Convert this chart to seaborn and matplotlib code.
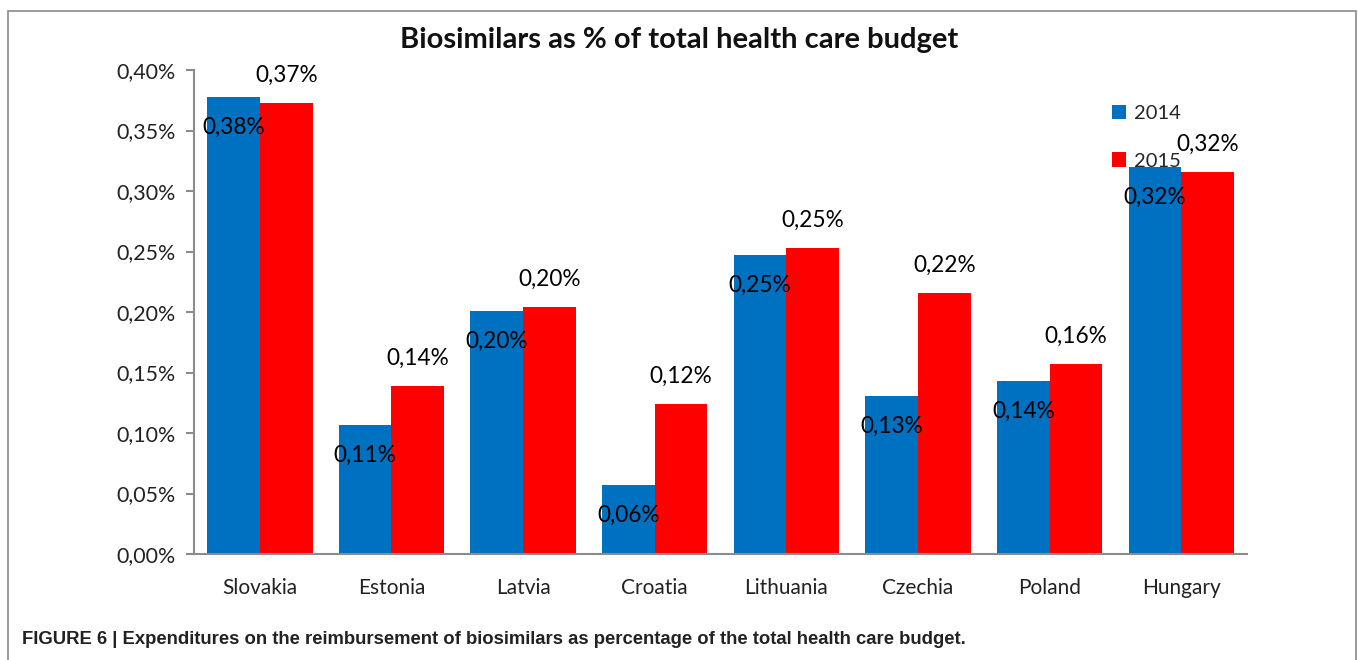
import matplotlib.pyplot as plt
import seaborn as sns
import pandas as pd
from matplotlib.patches import Rectangle
from matplotlib.ticker import FuncFormatter, FixedLocator

countries = ['Slovakia', 'Estonia', 'Latvia', 'Croatia', 'Lithuania', 'Czechia', 'Poland', 'Hungary']
share_2014 = [0.378, 0.107, 0.201, 0.057, 0.247, 0.131, 0.143, 0.320]
share_2015 = [0.373, 0.139, 0.204, 0.124, 0.253, 0.216, 0.157, 0.316]
years = ['2014', '2015']

BLUE = '#0070C0'
RED = '#FF0000'
AXIS_GREY = '#8c8c8c'

sns.set_style("white")
plt.rcParams['font.family'] = ['Lato', 'DejaVu Sans']

df = pd.DataFrame({
    'country': countries * 2,
    'share': share_2014 + share_2015,
    'year': [years[0]] * len(countries) + [years[1]] * len(countries),
})


def pct_comma(x, pos=None):
    return f'{x:.2f}%'.replace('.', ',')


fig = plt.figure(figsize=(13.58, 6.60), dpi=100)
ax = fig.add_axes([0.1429, 0.1606, 0.9183 - 0.1429, 0.8939 - 0.1606])

sns.barplot(data=df, x='country', y='share', hue='year', palette=[BLUE, RED],
            width=0.8, saturation=1, ax=ax, linewidth=0)

# value labels: 2014 inside the bar, 2015 above it
for container, yr in zip(ax.containers, years):
    for bar in container:
        h = bar.get_height()
        cx = bar.get_x() + bar.get_width() / 2
        off = -22 if yr == '2014' else 20
        ax.annotate(pct_comma(h), (cx, h), xytext=(0, off), textcoords='offset points',
                    ha='center', va='center', fontsize=16.3, color='black')

ax.set_ylim(0, 0.40)
ax.set_xlim(-0.5, len(countries) - 0.5)
ax.set_yticks([i * 0.05 for i in range(9)])
ax.yaxis.set_major_formatter(FuncFormatter(pct_comma))
ax.set_xlabel('')
ax.set_ylabel('')

ax.xaxis.set_minor_locator(FixedLocator([i - 0.5 for i in range(len(countries) + 1)]))
ax.tick_params(axis='x', which='major', length=0, pad=17, labelsize=15, colors='#222222')
ax.tick_params(axis='x', which='minor', length=7, width=1.5, color=AXIS_GREY, direction='out')
ax.tick_params(axis='y', length=6, width=1.5, color=AXIS_GREY, labelsize=15.4,
               labelcolor='#222222', pad=7, left=True, direction='out')

for side in ['top', 'right']:
    ax.spines[side].set_visible(False)
for side in ['left', 'bottom']:
    ax.spines[side].set_color(AXIS_GREY)
    ax.spines[side].set_linewidth(1.5)

ax.legend(loc='upper left', bbox_to_anchor=(1094 / 1358, 1 - 87 / 660),
          bbox_transform=fig.transFigure, frameon=False, fontsize=14.5,
          handlelength=0.7, handleheight=0.7, handletextpad=0.4, labelspacing=1.5)

fig.text(0.5, 1 - 40 / 660, 'Biosimilars as % of total health care budget',
         ha='center', va='center', fontsize=21, fontweight='bold', color='#111111')

fig.text(22 / 1358, 1 - 640 / 660,
         'FIGURE 6 | Expenditures on the reimbursement of biosimilars as percentage of the total health care budget.',
         ha='left', va='center', fontsize=13.3, fontweight='bold', color='#222222',
         family=['Liberation Sans', 'DejaVu Sans'])

# outer frame around the figure panel
fig.add_artist(Rectangle((8 / 1358, -0.02), (1356 - 8) / 1358, 1 - 11 / 660 + 0.02,
                         transform=fig.transFigure, fill=False, edgecolor='#8a8a8a', lw=1.2))

plt.savefig('out.png', dpi=100)
plt.close()
